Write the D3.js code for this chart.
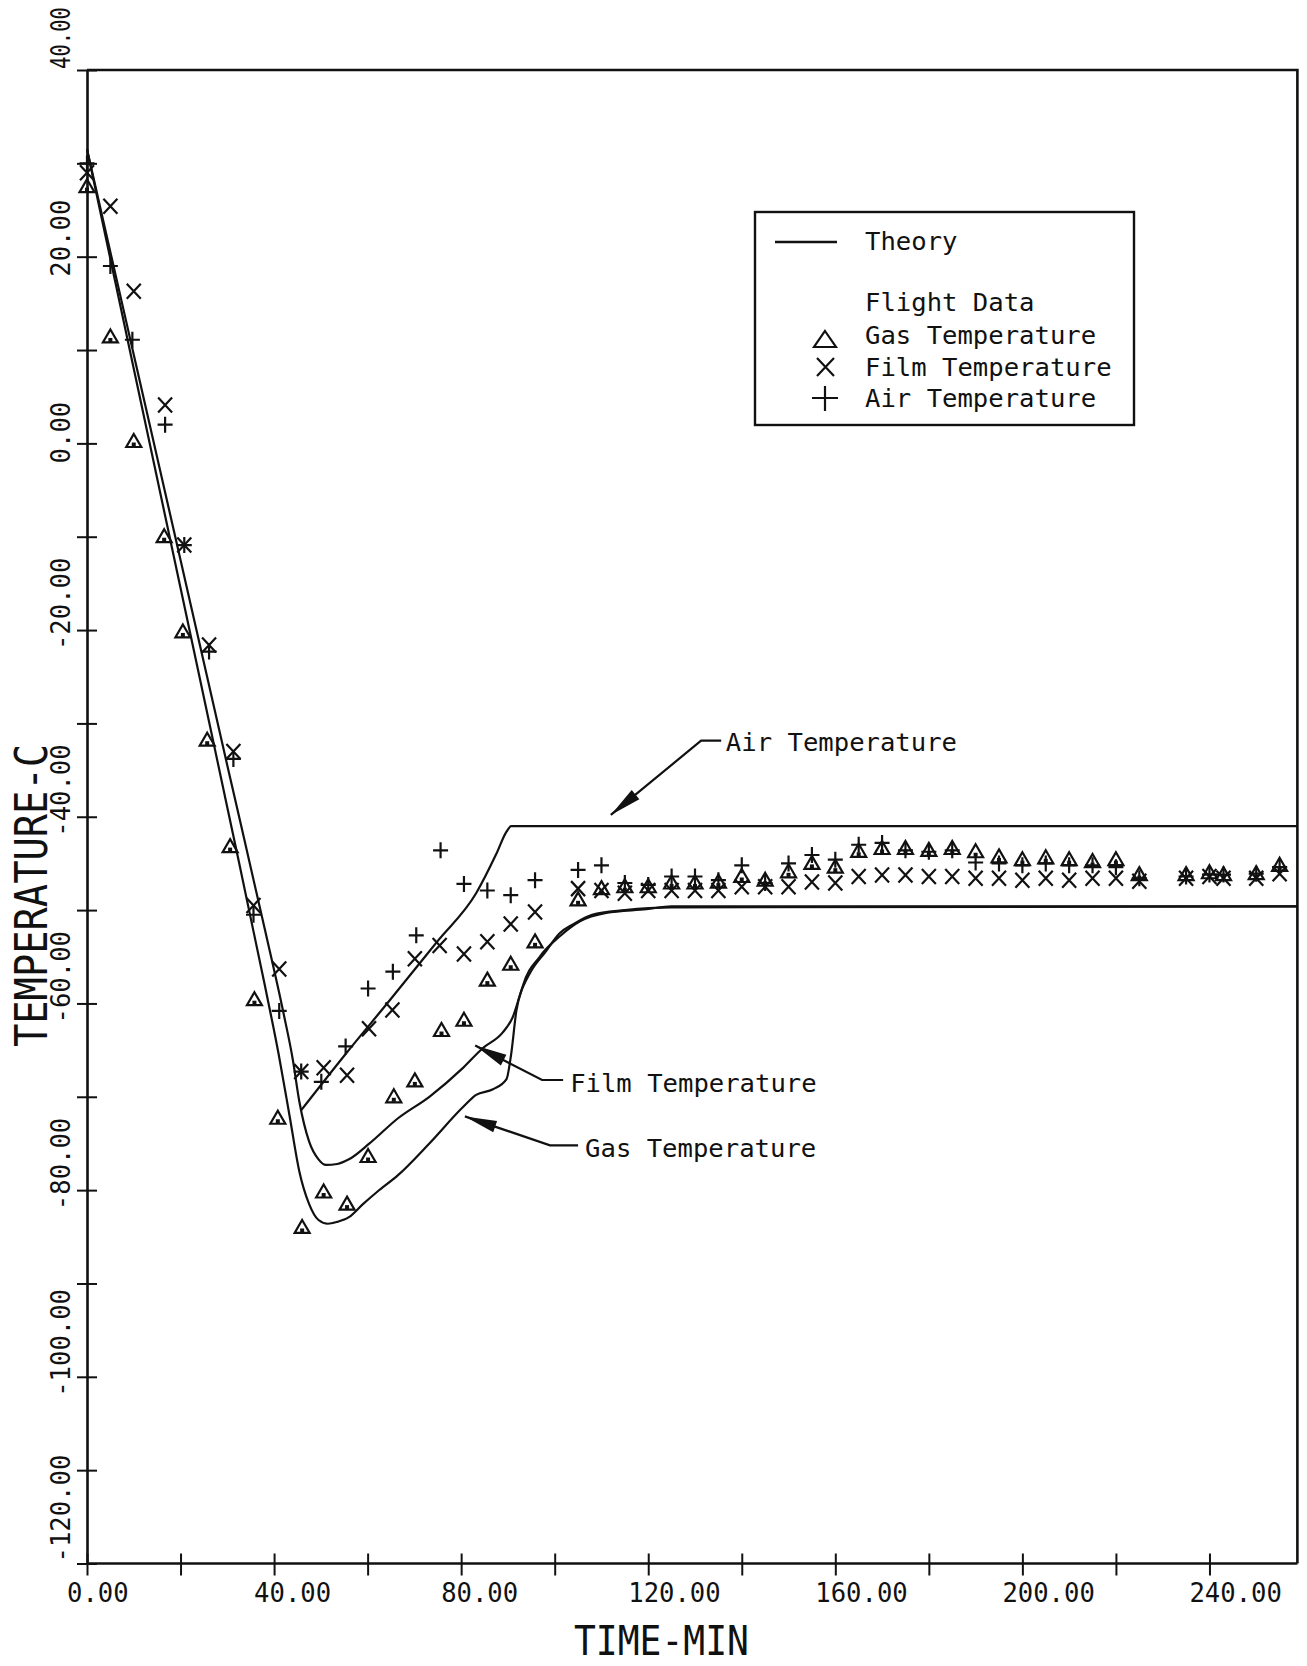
<!DOCTYPE html>
<html>
<head>
<meta charset="utf-8">
<script src="https://cdn.jsdelivr.net/npm/d3@7"></script>
<style>
  body { margin: 0; background: #fff; }
  text { font-family: "DejaVu Sans Mono", "Liberation Mono", monospace; fill: #111; }
</style>
</head>
<body>
<svg id="chart" width="1307" height="1666"></svg>
<script>
// ---- axis ticks and labels ----
const timeTicks = d3.range(0, 241, 20);
const timeLabelValues = [0, 40, 80, 120, 160, 200, 240];
const timeLabelText = ["0.00", "40.00", "80.00", "120.00", "160.00", "200.00", "240.00"];
const tempTicks = d3.range(-120, 41, 10);
const tempLabelValues = [40, 20, 0, -20, -40, -60, -80, -100, -120];
const tempLabelText = ["40.00", "20.00", "0.00", "-20.00", "-40.00", "-60.00", "-80.00", "-100.00", "-120.00"];
const timeEnd = 258.8;   // right edge of the plotting frame, minutes

// ---- theory curves: [time min, temperature C] ----
const theoryGas = [[0,31.5],[10,8],[20,-15.5],[30,-39],[38,-58],[41,-65.5],[43.3,-72],[45.4,-78],[47.5,-81.5],
  [49.5,-83.2],[51.5,-83.6],[53.5,-83.4],[56,-82.9],[59,-81.5],[62,-80.2],[66.5,-78.4],[73.2,-75.0],[80.4,-71.1],
  [83.2,-69.8],[86.8,-69.2],[89.7,-68.1],[90.7,-65.4],[91.8,-60.8],[93.2,-58.1],[96.8,-55.0],[101.1,-52.8],
  [105.4,-51.2],[111,-50.3],[119.6,-49.9],[125,-49.6],[timeEnd,-49.6]];
const theoryFilm = [[0,31.5],[10,9.5],[20,-12.5],[30,-34.5],[38,-52],[42,-61],[44,-66],[45.4,-70.5],[47.5,-74.8],
  [49.5,-76.7],[51.1,-77.3],[53.5,-77.2],[56,-76.7],[60.4,-75.0],[66.5,-72.3],[73.2,-70.0],[80.4,-66.9],[84.6,-64.8],
  [88.9,-63.1],[91,-61.5],[93,-58.5],[95,-56.5],[98,-54.5],[101,-52.5],[104,-51.5],[108,-50.5],[115,-50.0],
  [125,-49.7],[timeEnd,-49.6]];
const theoryAir = [[45.7,-71.5],[55,-65.6],[65,-59.5],[75,-53.3],[83.2,-48.2],[87.5,-44],[89.7,-41.6],[90.7,-41.0],[timeEnd,-41.0]];

// ---- flight data: [time min, temperature C] ----
const gasFlight = [[0,27.5],[5,11.4],[10,0.2],[16.5,-10.0],[20.5,-20.2],[25.7,-31.8],[30.6,-43.2],[35.8,-59.6],
  [40.8,-72.3],[46,-84.0],[50.6,-80.2],[55.6,-81.5],[60.1,-76.4],[65.6,-70.0],[70.1,-68.3],[75.8,-62.9],[80.6,-61.8],
  [85.6,-57.5],[90.6,-55.8],[95.8,-53.4],[105,-48.9],[110,-47.7],[115,-47.5],[120,-47.5],[125,-47.1],[130,-47.1],
  [135,-47.0],[140,-46.4],[145,-46.8],[150,-45.9],[155,-45.0],[160,-45.4],[165,-43.7],[170,-43.4],[175,-43.4],
  [180,-43.6],[185,-43.4],[190,-43.75],[195,-44.3],[200,-44.6],[205,-44.4],[210,-44.6],[215,-44.8],[220,-44.6],
  [225,-46.2],[235,-46.2],[240,-46.0],[243,-46.2],[250,-46.1],[255,-45.2]];
const filmFlight = [[0,29],[5,25.4],[10,16.3],[16.7,4.1],[20.8,-10.9],[26.1,-21.6],[31.3,-33.0],[35.6,-49.5],
  [41.1,-56.3],[45.8,-67.3],[50.6,-66.9],[55.6,-67.7],[60.3,-62.7],[65.3,-60.7],[70.1,-55.2],[75.4,-53.8],[80.6,-54.7],
  [85.6,-53.4],[90.6,-51.5],[95.8,-50.2],[105,-47.7],[110,-47.9],[115,-48.2],[120,-47.9],[125,-47.9],[130,-47.9],
  [135,-47.9],[140,-47.5],[145,-47.5],[150,-47.5],[155,-47.0],[160,-47.1],[165,-46.4],[170,-46.25],[175,-46.25],
  [180,-46.4],[185,-46.4],[190,-46.6],[195,-46.6],[200,-46.8],[205,-46.6],[210,-46.8],[215,-46.6],[220,-46.6],
  [225,-46.9],[235,-46.6],[240,-46.4],[243,-46.6],[250,-46.6],[255,-46.1]];
const airFlight = [[0,30],[5,19.0],[9.7,11.1],[16.7,2.0],[20.8,-10.9],[26.1,-22.3],[31.3,-33.8],[35.6,-50.5],
  [41.1,-60.8],[45.8,-67.3],[50.1,-68.4],[55.3,-64.6],[60.1,-58.4],[65.4,-56.6],[70.4,-52.7],[75.6,-43.6],[80.6,-47.2],
  [85.6,-47.9],[90.6,-48.4],[95.8,-46.8],[105,-45.7],[110,-45.2],[115,-47.1],[120,-47.3],[125,-46.4],[130,-46.4],
  [135,-46.8],[140,-45.2],[145,-47.1],[150,-45.0],[155,-44.1],[160,-44.6],[165,-43.0],[170,-42.8],[175,-43.6],
  [180,-43.75],[185,-43.6],[190,-44.9],[195,-45.0],[200,-45.2],[205,-45.0],[210,-45.2],[215,-45.2],[220,-45.4],
  [225,-46.6],[235,-46.4],[240,-46.2],[243,-46.2],[250,-46.1],[255,-45.4]];

// ---- curve call-outs: arrow tip, elbow, end of leader, text start (data units) ----
const callouts = [
  { label: "Air Temperature",  tip: [112.0,-39.8], elbow: [131.3,-31.85], end: [135.6,-31.85], text: [136.6,-33.0] },
  { label: "Film Temperature", tip: [83.0,-64.5],  elbow: [97.3,-68.2],   end: [101.8,-68.2],  text: [103.3,-69.5] },
  { label: "Gas Temperature",  tip: [80.8,-72.1],  elbow: [99.0,-75.2],   end: [105.0,-75.2],  text: [106.5,-76.5] }
];

const svg = d3.select("#chart");
const W = 1307, H = 1666;
svg.append("rect").attr("width", W).attr("height", H).attr("fill", "#fff");

const x = d3.scaleLinear().domain([0, 260]).range([87, 1303]);
const y = d3.scaleLinear().domain([-120, 40]).range([1563.5, 70]);
const ink = "#111";

// ---- axes ----
const gx = svg.append("g").attr("transform", `translate(0,${y(-120)})`)
  .call(d3.axisBottom(x).tickValues(timeTicks).tickFormat("").tickSizeOuter(0));
gx.selectAll(".tick line").attr("y1", -10).attr("y2", 12).attr("stroke", ink).attr("stroke-width", 2);
gx.select(".domain").attr("d", `M${x(0)},0H${x(timeEnd)}`).attr("stroke", ink).attr("stroke-width", 2.6);

const gy = svg.append("g").attr("transform", `translate(${x(0)},0)`)
  .call(d3.axisLeft(y).tickValues(tempTicks).tickFormat("").tickSizeOuter(0));
gy.selectAll(".tick line").attr("x1", -10).attr("x2", 10).attr("stroke", ink).attr("stroke-width", 2);
gy.select(".domain").attr("stroke", ink).attr("stroke-width", 2.6);

// frame top and right
svg.append("path")
  .attr("d", `M${x(0)},${y(40)}H${x(timeEnd)}V${y(-120)}`)
  .attr("fill", "none").attr("stroke", ink).attr("stroke-width", 2.6);

// tick labels (narrow plotter lettering: glyphs squeezed along the text direction)
const charW = 0.602 * 27;   // natural advance of the mono face at 27px
svg.append("g").selectAll("text").data(timeLabelValues).join("text")
  .attr("transform", d => `translate(${x(d) - 20},1602) scale(${15.4 / charW},1)`)
  .attr("font-size", 27)
  .text((d, i) => timeLabelText[i]);

svg.append("g").selectAll("text").data(tempLabelValues).join("text")
  .attr("transform", (d, i) => {
    const end = i === 0 || i === tempLabelValues.length - 1;
    const off = end ? -1 : 20;
    const sx = i === 0 ? 62 / (5 * charW) : 15.4 / charW;
    return `translate(70,${y(d) + off}) rotate(-90) scale(${sx},1)`;
  })
  .attr("font-size", 27)
  .text((d, i) => tempLabelText[i]);

// axis titles
svg.append("text").attr("x", 574).attr("y", 1655)
  .attr("font-size", 41).attr("textLength", 175).attr("lengthAdjust", "spacingAndGlyphs")
  .text("TIME-MIN");
svg.append("text").attr("transform", "translate(47,1047) rotate(-90)")
  .attr("font-size", 44).attr("textLength", 303).attr("lengthAdjust", "spacingAndGlyphs")
  .text("TEMPERATURE-C");

// ---- theory curves ----
const line = d3.line().x(d => x(d[0])).y(d => y(d[1])).curve(d3.curveMonotoneX);
[theoryGas, theoryFilm, theoryAir].forEach(c => {
  svg.append("path").attr("d", line(c)).attr("fill", "none")
    .attr("stroke", ink).attr("stroke-width", 2.2).attr("stroke-linejoin", "round");
});

// ---- flight data markers ----
const triPath = "M0,-7.5L7.5,5.5L-7.5,5.5Z";
const crossPath = "M-7,-7.5L7,7.5M-7,7.5L7,-7.5";
const plusPath = "M-7.5,0H7.5M0,-8V8";
function drawMarkers(data, path, extra) {
  const g = svg.append("g");
  data.forEach(d => {
    const m = g.append("g").attr("transform", `translate(${x(d[0])},${y(d[1])})`);
    m.append("path").attr("d", path).attr("fill", "none").attr("stroke", ink).attr("stroke-width", 2.2);
    if (extra) extra(m);
  });
}
drawMarkers(gasFlight, triPath, m => m.append("rect").attr("x", -2).attr("y", 1).attr("width", 4).attr("height", 4).attr("fill", ink));
drawMarkers(filmFlight, crossPath);
drawMarkers(airFlight, plusPath);

// ---- call-outs with arrows ----
callouts.forEach(c => {
  const tip = [x(c.tip[0]), y(c.tip[1])];
  const elbow = [x(c.elbow[0]), y(c.elbow[1])];
  const end = [x(c.end[0]), y(c.end[1])];
  svg.append("path").attr("d", `M${end[0]},${end[1]}L${elbow[0]},${elbow[1]}L${tip[0]},${tip[1]}`)
    .attr("fill", "none").attr("stroke", ink).attr("stroke-width", 2.2);
  const dx = elbow[0] - tip[0], dy = elbow[1] - tip[1];
  const len = Math.hypot(dx, dy), ux = dx / len, uy = dy / len;
  const L = 32, hw = 6;
  const bx = tip[0] + ux * L, by = tip[1] + uy * L;
  svg.append("path")
    .attr("d", `M${tip[0]},${tip[1]}L${bx - uy * hw},${by + ux * hw}L${bx + uy * hw},${by - ux * hw}Z`)
    .attr("fill", ink);
  svg.append("text").attr("x", x(c.text[0])).attr("y", y(c.text[1]))
    .attr("font-size", 25.6).text(c.label);
});

// ---- legend ----
const lg = svg.append("g");
lg.append("rect").attr("x", 755).attr("y", 212).attr("width", 379).attr("height", 213)
  .attr("fill", "#fff").attr("stroke", ink).attr("stroke-width", 2.4);
lg.append("line").attr("x1", 775).attr("x2", 837).attr("y1", 242).attr("y2", 242)
  .attr("stroke", ink).attr("stroke-width", 2.4);
lg.append("path").attr("d", "M825,331L836,347L814,347Z").attr("fill", "none").attr("stroke", ink).attr("stroke-width", 2.2);
lg.append("path").attr("d", "M817,358L834,376M817,376L834,358").attr("stroke", ink).attr("stroke-width", 2.2);
lg.append("path").attr("d", "M812,398H838M825,386V411").attr("stroke", ink).attr("stroke-width", 2.2);
const legendText = [["Theory", 250], ["Flight Data", 311], ["Gas Temperature", 344], ["Film Temperature", 376], ["Air Temperature", 407]];
lg.selectAll("text.lt").data(legendText).join("text").attr("class", "lt")
  .attr("x", 865).attr("y", d => d[1]).attr("font-size", 25.6).text(d => d[0]);
</script>
</body>
</html>
